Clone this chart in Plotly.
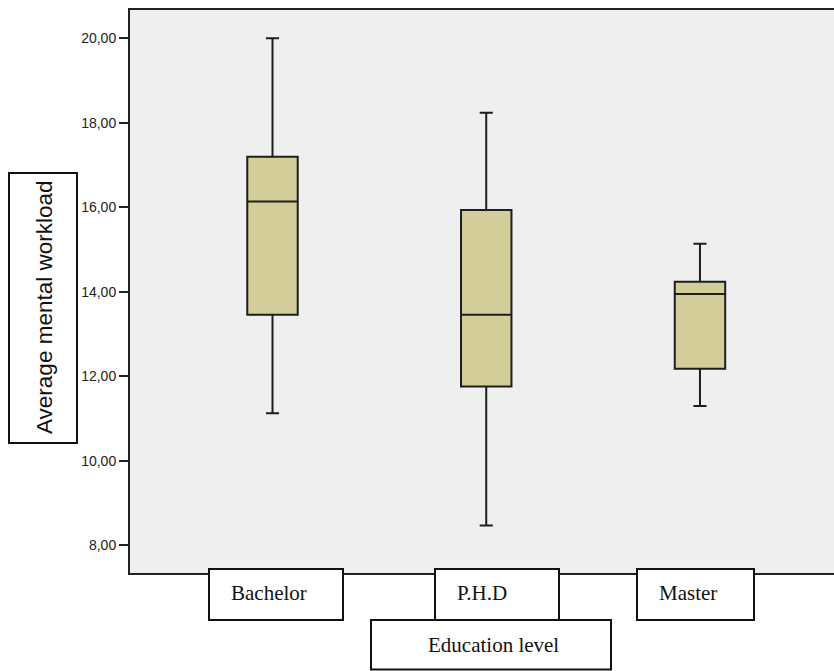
import plotly.graph_objects as go

categories = ["Bachelor", "P.H.D", "Master"]
lower_whisker = [11.13, 8.47, 11.30]
q1 = [13.46, 11.76, 12.18]
median = [16.14, 13.46, 13.95]
q3 = [17.20, 15.94, 14.24]
upper_whisker = [20.00, 18.24, 15.14]
y_ticks = [8, 10, 12, 14, 16, 18, 20]
y_title = "Average mental workload"
x_title = "Education level"

W, H = 834, 671
L, T, B = 130, 10, 98
PW, PH = W - L, H - T - B

def px(x):
    return (x - L) / PW

def py(y):
    return (H - B - y) / PH

fig = go.Figure()
for i, cat in enumerate(categories):
    fig.add_trace(go.Box(
        x=[i], q1=[q1[i]], median=[median[i]], q3=[q3[i]],
        lowerfence=[lower_whisker[i]], upperfence=[upper_whisker[i]],
        name=cat, width=0.236, whiskerwidth=0.26,
        fillcolor="#d3ce99", line=dict(color="#1e1e1e", width=2),
        boxpoints=False, showlegend=False, hoverinfo="skip",
    ))

shapes = []
annotations = []
serif = dict(family="Liberation Serif, Times New Roman, serif", size=21, color="#111")
label_boxes = [(209, 343), (435, 559), (637, 754)]
for (x0, x1), cat in zip(label_boxes, categories):
    shapes.append(dict(type="rect", xref="paper", yref="paper",
                       x0=px(x0), x1=px(x1), y0=py(620), y1=py(569),
                       line=dict(color="#111", width=2), fillcolor="white", layer="above"))
    annotations.append(dict(text=cat, xref="paper", yref="paper", x=px(x0 + 20), y=py(593),
                            xanchor="left", yanchor="middle", showarrow=False, font=serif))
shapes.append(dict(type="rect", xref="paper", yref="paper",
                   x0=px(371), x1=px(611), y0=py(669.5), y1=py(620),
                   line=dict(color="#111", width=2), fillcolor="white", layer="above"))
annotations.append(dict(text=x_title, xref="paper", yref="paper", x=px(493), y=py(645),
                        xanchor="center", yanchor="middle", showarrow=False, font=serif))
shapes.append(dict(type="rect", xref="paper", yref="paper",
                   x0=px(9), x1=px(77), y0=py(443), y1=py(173),
                   line=dict(color="#111", width=2), fillcolor="white", layer="above"))
annotations.append(dict(text=y_title, xref="paper", yref="paper", x=px(44), y=py(308),
                        xanchor="center", yanchor="middle", textangle=-90, showarrow=False,
                        font=dict(family="Liberation Sans, Arial, sans-serif", size=22.5, color="#111")))

fig.update_layout(
    width=W, height=H,
    margin=dict(l=L, r=0, t=T, b=B, pad=0),
    paper_bgcolor="white", plot_bgcolor="#efefef",
    separators=",.",
    shapes=shapes, annotations=annotations,
    xaxis=dict(range=[-0.6667, 2.627], showticklabels=False, ticks="", showgrid=False,
               zeroline=False, showline=True, mirror=True, linecolor="#222", linewidth=2),
    yaxis=dict(range=[7.347, 20.67], tickvals=y_ticks, tickformat=".2f", ticks="outside",
               ticklen=9, tickwidth=2, tickcolor="#222", showgrid=False, zeroline=False,
               showline=True, linecolor="#222", linewidth=2,
               tickfont=dict(family="Liberation Sans, Arial, sans-serif", size=14, color="#222")),
)

fig.write_html("out.html", config={"displayModeBar": False},
               post_script="document.body.style.margin='0';document.body.style.overflow='hidden';")
